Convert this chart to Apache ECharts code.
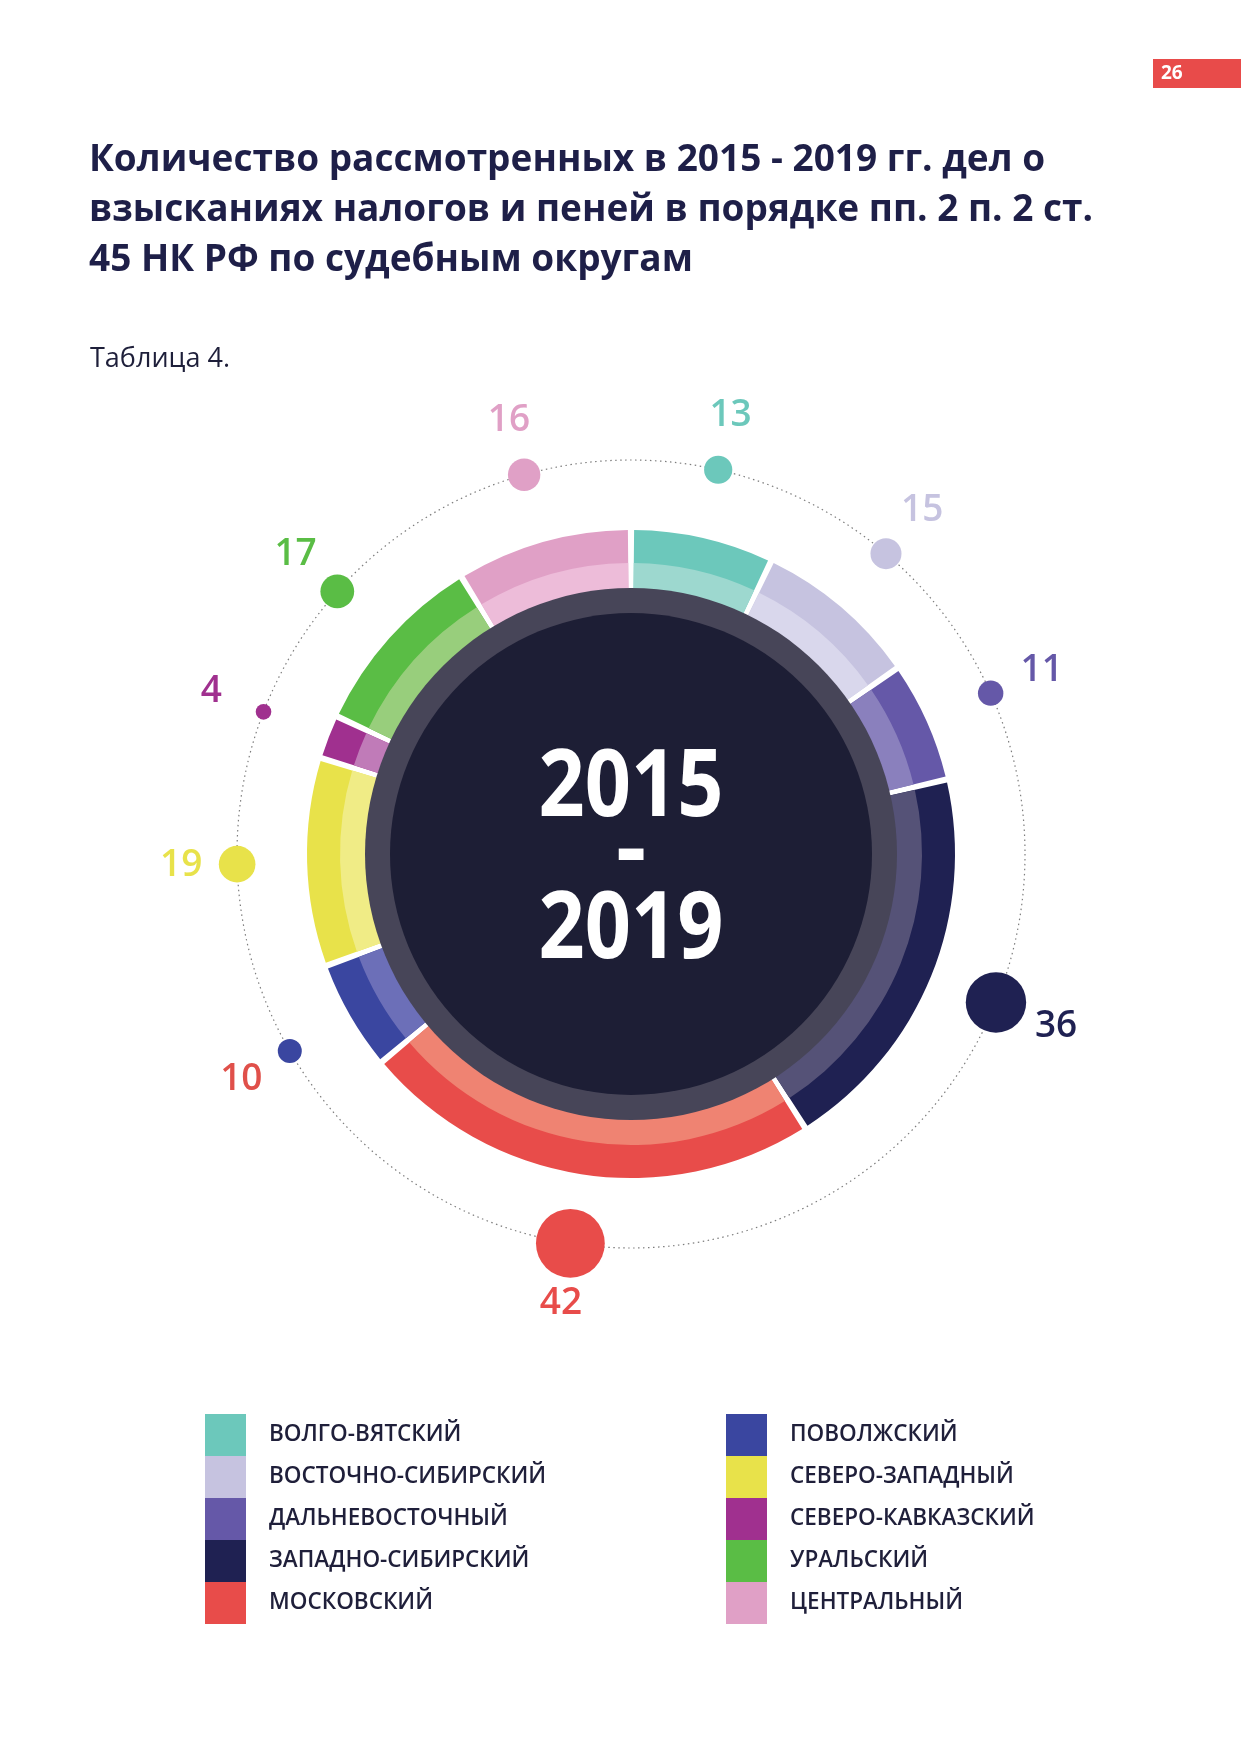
<!DOCTYPE html>
<html><head><meta charset="utf-8">
<script src="https://cdn.jsdelivr.net/npm/echarts@6/dist/echarts.min.js"></script>
<style>html,body{margin:0;padding:0;background:#fff}#c{width:1241px;height:1754px}</style>
</head><body><div id="c"></div>
<script>
// ---------- DATA ----------
const categories = ['ВОЛГО-ВЯТСКИЙ','ВОСТОЧНО-СИБИРСКИЙ','ДАЛЬНЕВОСТОЧНЫЙ','ЗАПАДНО-СИБИРСКИЙ','МОСКОВСКИЙ','ПОВОЛЖСКИЙ','СЕВЕРО-ЗАПАДНЫЙ','СЕВЕРО-КАВКАЗСКИЙ','УРАЛЬСКИЙ','ЦЕНТРАЛЬНЫЙ'];
const values = [13, 15, 11, 36, 42, 10, 19, 4, 17, 16];
const titleText = 'Количество рассмотренных в 2015 - 2019 гг. дел о\nвзысканиях налогов и пеней в порядке пп. 2 п. 2 ст.\n45 НК РФ по судебным округам';
const tableLabel = 'Таблица 4.';
const periodLines = ['2015', '-', '2019'];
const pageNumber = '26';

// ---------- STYLE ----------
const darkColors  = ['#6cc8bb','#c6c3e0','#6558a8','#1f2152','#e84c4a','#3a46a0','#e8e24a','#a0308f','#5abd45','#e0a0c6'];
const lightColors = ['#9dd8cf','#d9d7ec','#8a80bd','#555277','#ef8372','#6c6fb8','#f0ec86','#c07bb8','#98ce7c','#edbcd9'];
const labelColors = ['#6cc8bb','#c6c3e0','#6558a8','#1f2152','#e84c4a','#e0504a','#e8e24a','#a0308f','#5abd45','#e0a0c6'];
const FONT = '"Open Sans", "Noto Sans", sans-serif';
const cx = 631, cy = 854;
const orbit = 394;

const total = values.reduce((a, b) => a + b, 0);
const mids = [];
let acc = 0;
values.forEach(v => { mids.push(acc + v / 2); acc += v; });
const dotSize = v => 10 + 1.4 * v;
const labelFont = 37;
const labelRadius = values.map((v, i) => {
  const th = mids[i] / total * 2 * Math.PI;
  const hw = String(v).length * 0.572 * labelFont / 2, hh = 13.5;
  const ext = Math.abs(Math.sin(th)) * hw + Math.abs(Math.cos(th)) * hh;
  return Math.max(450, orbit + dotSize(v) / 2 + ext + 10);
});

const pieBase = {
  type: 'pie', center: [cx, cy], startAngle: 90, clockwise: true,
  label: { show: false }, labelLine: { show: false },
  emphasis: { disabled: true }, silent: true, animation: false
};

const legendCommon = {
  orient: 'vertical', icon: 'rect', itemWidth: 41, itemHeight: 42, itemGap: 0,
  selectedMode: false, padding: 0,
  textStyle: { fontFamily: FONT, fontSize: 22.5, fontWeight: 600, color: '#1f1f3a', padding: [0, 0, 0, 18] }
};

const option = {
  backgroundColor: '#ffffff',
  animation: false,
  title: [
    { text: titleText, left: 89, top: 135, padding: 0,
      textStyle: { fontFamily: FONT, fontSize: 37, fontWeight: 700, color: '#1e1f48', lineHeight: 50 } },
    { text: tableLabel, left: 90, top: 346, padding: 0,
      textStyle: { fontFamily: FONT, fontSize: 27, fontWeight: 400, color: '#1e1f3a', lineHeight: 27 } }
  ],
  legend: [
    Object.assign({ left: 205, top: 1414,
      data: categories.slice(0, 5).map((n, i) => ({ name: n, itemStyle: { color: darkColors[i] } })) }, legendCommon),
    Object.assign({ left: 726, top: 1414,
      data: categories.slice(5).map((n, i) => ({ name: n, itemStyle: { color: darkColors[i + 5] } })) }, legendCommon)
  ],
  polar: { center: [cx, cy], radius: orbit },
  angleAxis: {
    type: 'value', min: 0, max: total, startAngle: 90, clockwise: true,
    axisLine: { show: true, lineStyle: { color: '#7d7d7d', width: 1.2, type: [1.5, 3.5] } },
    axisTick: { show: false }, axisLabel: { show: false }, splitLine: { show: false }
  },
  radiusAxis: {
    type: 'value', min: 0, max: orbit,
    axisLine: { show: false }, axisTick: { show: false }, axisLabel: { show: false }, splitLine: { show: false }
  },
  series: [
    Object.assign({}, pieBase, { name: 'outer', z: 1, radius: [255, 324], padAngle: 1.1,
      data: categories.map((n, i) => ({ name: n, value: values[i], itemStyle: { color: darkColors[i] } })) }),
    Object.assign({}, pieBase, { name: 'inner', z: 2, radius: [255, 291], padAngle: 1.1,
      data: categories.map((n, i) => ({ name: n, value: values[i], itemStyle: { color: lightColors[i] } })) }),
    Object.assign({}, pieBase, { name: 'ring', z: 3, radius: [0, 266],
      data: [{ name: '', value: 1, itemStyle: { color: '#474558' } }] }),
    Object.assign({}, pieBase, { name: 'core', z: 4, radius: [0, 241],
      data: [{ name: '', value: 1, itemStyle: { color: '#1d1e35' } }] }),
    {
      type: 'scatter', coordinateSystem: 'polar', z: 5, clip: false, silent: true,
      data: values.map((v, i) => ({ value: [orbit, mids[i]], itemStyle: { color: darkColors[i], opacity: 1 } })),
      symbolSize: (val, p) => dotSize(values[p.dataIndex])
    },
    {
      type: 'scatter', coordinateSystem: 'polar', z: 6, clip: false, silent: true,
      symbolSize: 1, itemStyle: { color: 'rgba(0,0,0,0)', opacity: 1 },
      data: values.map((v, i) => ({
        value: [labelRadius[i], mids[i]],
        label: { show: true, position: 'inside', formatter: String(v), color: labelColors[i],
                 fontFamily: FONT, fontSize: labelFont, fontWeight: 600 }
      }))
    }
  ],
  graphic: [
    { type: 'rect', shape: { x: 1153, y: 59, width: 88, height: 29 }, style: { fill: '#e84b4a' } },
    { type: 'text', x: 1161, y: 74, style: { text: pageNumber, fill: '#ffffff', font: '700 19px ' + FONT, align: 'left', verticalAlign: 'middle' } },
    { type: 'text', x: cx, y: 789, scaleX: 0.86, z: 10, style: { text: periodLines[0], fill: '#ffffff', font: '700 94px ' + FONT, align: 'center', verticalAlign: 'middle' } },
    { type: 'text', x: cx, y: 852, scaleX: 1.0, z: 10, style: { text: periodLines[1], fill: '#ffffff', font: '700 94px ' + FONT, align: 'center', verticalAlign: 'middle' } },
    { type: 'text', x: cx, y: 931, scaleX: 0.86, z: 10, style: { text: periodLines[2], fill: '#ffffff', font: '700 94px ' + FONT, align: 'center', verticalAlign: 'middle' } }
  ]
};

const chart = echarts.init(document.getElementById('c'), null, { renderer: 'canvas' });
chart.setOption(option);
</script>
</body></html>
